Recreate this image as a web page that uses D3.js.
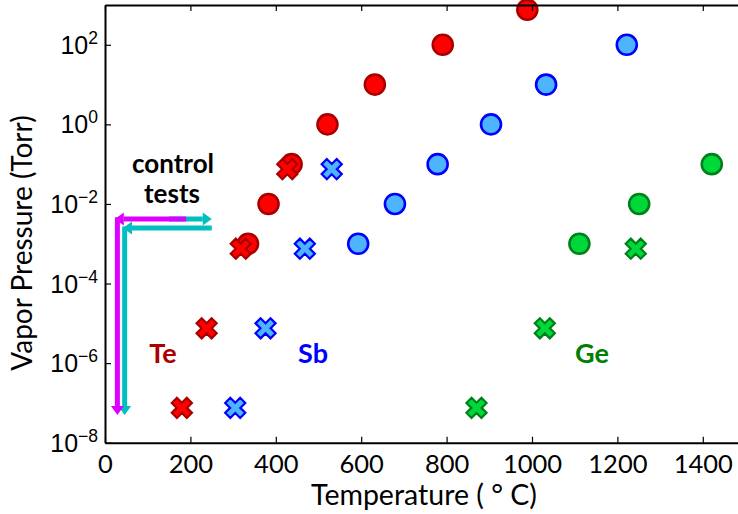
<!DOCTYPE html>
<html>
<head>
<meta charset="utf-8">
<script src="https://cdn.jsdelivr.net/npm/d3@7"></script>
<style>
  html, body { margin: 0; padding: 0; background: #fff; }
  svg { display: block; font-family: "Lato", "Open Sans", sans-serif; }
</style>
</head>
<body>
<div id="chart"></div>
<script>
// --- data (temperature in deg C, vapor pressure in Torr) ---
const teCircleT = [335, 383, 437, 521, 632, 791, 989];
const teCircleP = [1e-3, 1e-2, 1e-1, 1, 10, 100, 760];
const sbCircleT = [593, 679, 779, 904, 1033, 1222];
const sbCircleP = [1e-3, 1e-2, 1e-1, 1, 10, 100];
const geCircleT = [1111, 1251, 1421];
const geCircleP = [1e-3, 1e-2, 1e-1];

const teCrossT = [180, 238, 318, 427];
const teCrossP = [7.5e-8, 7.5e-6, 7.5e-4, 7.5e-2];
const sbCrossT = [305, 376, 468, 531];
const sbCrossP = [7.5e-8, 7.5e-6, 7.5e-4, 7.5e-2];
const geCrossT = [870, 1030, 1243];
const geCrossP = [7.5e-8, 7.5e-6, 7.5e-4];

const xTicks = [0, 200, 400, 600, 800, 1000, 1200, 1400];
const yTickExp = [-8, -6, -4, -2, 0, 2];

// control test arrows: [x1, p1, x2, p2] in data units
const magentaArrows = [[190, 4.2e-3, 23, 4.2e-3], [29, 4.6e-3, 29, 5e-8]];
const cyanArrows = [[150, 4.2e-3, 250, 4.2e-3], [250, 2.5e-3, 42, 2.5e-3], [46, 2.7e-3, 46, 5e-8]];

const W = 738, H = 514;
const margin = { left: 105, top: 5, bottom: 442.7 };

const x = d3.scaleLinear().domain([0, 1500]).range([margin.left, margin.left + 1500 * 0.427]);
const y = d3.scaleLog().domain([1e-8, 1e3]).range([margin.bottom, margin.top]);

const svg = d3.select("#chart").append("svg").attr("width", W).attr("height", H);

// markers
const circleStyles = [
  { T: teCircleT, P: teCircleP, fill: "#ff0000", stroke: "#a80000" },
  { T: sbCircleT, P: sbCircleP, fill: "#4db5ff", stroke: "#0000ff" },
  { T: geCircleT, P: geCircleP, fill: "#00d83a", stroke: "#00801a" }
];
const crossStyles = [
  { T: teCrossT, P: teCrossP, fill: "#ff0000", stroke: "#a80000" },
  { T: sbCrossT, P: sbCrossP, fill: "#4db5ff", stroke: "#0000ff" },
  { T: geCrossT, P: geCrossP, fill: "#00d83a", stroke: "#00801a" }
];

// filled X marker path (plus rotated 45 deg)
function crossPath(s) {
  const w = 0.34, pts = [];
  const base = [[w, w], [1, w], [1, -w], [w, -w], [w, -1], [-w, -1], [-w, -w], [-1, -w], [-1, w], [-w, w], [-w, 1], [w, 1]];
  const c = Math.SQRT1_2;
  base.forEach(([a, b]) => pts.push([(a - b) * c * s, (a + b) * c * s]));
  return "M" + pts.map(p => p.join(",")).join("L") + "Z";
}

const plot = svg.append("g");
circleStyles.forEach(st => {
  plot.selectAll(null).data(st.T.map((t, i) => [t, st.P[i]])).enter()
    .append("circle")
    .attr("cx", d => x(d[0])).attr("cy", d => y(d[1])).attr("r", 10)
    .attr("fill", st.fill).attr("stroke", st.stroke).attr("stroke-width", 2.6);
});
crossStyles.forEach(st => {
  plot.selectAll(null).data(st.T.map((t, i) => [t, st.P[i]])).enter()
    .append("path")
    .attr("transform", d => `translate(${x(d[0])},${y(d[1])})`)
    .attr("d", crossPath(10.6))
    .attr("fill", st.fill).attr("stroke", st.stroke).attr("stroke-width", 2.2)
    .attr("stroke-linejoin", "miter");
});

// arrows
function drawArrow(a, color) {
  const x1 = x(a[0]), y1 = y(a[1]), x2 = x(a[2]), y2 = y(a[3]);
  const ang = Math.atan2(y2 - y1, x2 - x1);
  const hl = 9, hw = 6.5;
  const bx = x2 - hl * Math.cos(ang), by = y2 - hl * Math.sin(ang);
  plot.append("line").attr("x1", x1).attr("y1", y1).attr("x2", bx).attr("y2", by)
    .attr("stroke", color).attr("stroke-width", 5);
  const px = -Math.sin(ang) * hw, py = Math.cos(ang) * hw;
  plot.append("path")
    .attr("d", `M${x2},${y2}L${bx + px},${by + py}L${bx - px},${by - py}Z`)
    .attr("fill", color);
}
cyanArrows.forEach(a => drawArrow(a, "#00bfbf"));
magentaArrows.forEach(a => drawArrow(a, "#dd00ff"));

// text labels
const labels = [
  { t: "Te", x: 163, y: 363, c: "#aa0000", s: 27 },
  { t: "Sb", x: 313, y: 363, c: "#0000ff", s: 27 },
  { t: "Ge", x: 592, y: 363, c: "#008000", s: 27 },
  { t: "control", x: 173, y: 173, c: "#000", s: 26 },
  { t: "tests", x: 172, y: 203, c: "#000", s: 26 }
];
svg.selectAll(null).data(labels).enter().append("text")
  .attr("x", d => d.x).attr("y", d => d.y).attr("text-anchor", "middle")
  .attr("font-weight", "bold").attr("font-size", d => d.s).attr("fill", d => d.c)
  .text(d => d.t);

// axes
const xAxisB = d3.axisBottom(x).tickValues(xTicks).tickSizeInner(-6).tickSizeOuter(0).tickPadding(12).tickFormat(d3.format("d"));
const xAxisT = d3.axisTop(x).tickValues(xTicks).tickSizeInner(-6).tickSizeOuter(0).tickFormat("");
const yAxisL = d3.axisLeft(y).tickValues(yTickExp.map(e => Math.pow(10, e))).tickSizeInner(-6).tickSizeOuter(0).tickPadding(8).tickFormat("");

const gx = svg.append("g").attr("transform", `translate(0,${margin.bottom})`).call(xAxisB);
const gt = svg.append("g").attr("transform", `translate(0,${margin.top})`).call(xAxisT);
const gy = svg.append("g").attr("transform", `translate(${margin.left},0)`).call(yAxisL);

[gx, gt, gy].forEach(g => {
  g.select(".domain").attr("stroke", "#000").attr("stroke-width", 2);
  g.selectAll(".tick line").attr("stroke", "#000").attr("stroke-width", 1.2);
});
gx.selectAll(".tick text").attr("font-size", 25.5).attr("fill", "#000").attr("font-family", "Lato, sans-serif");

// y tick labels as 10^n
gy.selectAll(".tick").each(function (d) {
  const e = Math.round(Math.log10(d));
  const t = d3.select(this).append("text")
    .attr("x", -7).attr("y", 8.5).attr("text-anchor", "end")
    .attr("fill", "#000").attr("font-size", 25);
  t.append("tspan").text("10");
  t.append("tspan").attr("dy", -10).attr("font-size", 17.5).text(e < 0 ? "\u2212" + (-e) : String(e));
});

// axis titles
svg.append("text").attr("x", 424).attr("y", 505).attr("text-anchor", "middle")
  .attr("font-size", 28.5).attr("fill", "#000").text("Temperature ( \u00b0 C)");
svg.append("text").attr("transform", "translate(32,243) rotate(-90)").attr("text-anchor", "middle")
  .attr("font-size", 28).attr("fill", "#000").text("Vapor Pressure (Torr)");
</script>
</body>
</html>
